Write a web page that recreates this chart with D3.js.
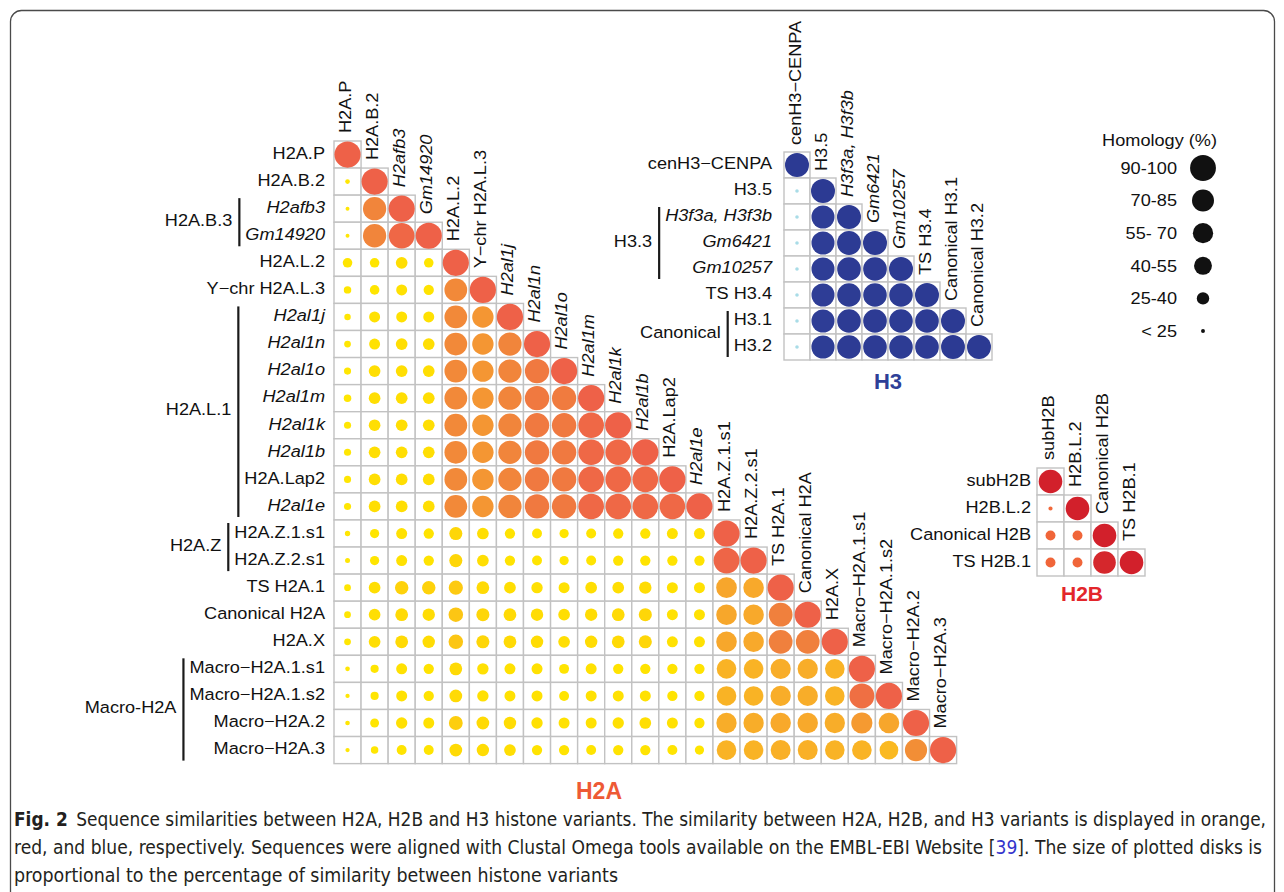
<!DOCTYPE html>
<html>
<head>
<meta charset="utf-8">
<script src="https://cdn.jsdelivr.net/npm/d3@7"></script>
<style>
  html, body { margin: 0; padding: 0; background: #fff; }
  svg { display: block; font-family: "Liberation Sans", Arial, Helvetica, sans-serif; }
</style>
</head>
<body>
<svg id="fig" width="1284" height="892"></svg>
<script>
// ---------------- H2A variants (lower triangle, % similarity) ----------------
const h2aLabels = ["H2A.P", "H2A.B.2", "H2afb3", "Gm14920", "H2A.L.2", "Y\u2212chr H2A.L.3",
  "H2al1j", "H2al1n", "H2al1o", "H2al1m", "H2al1k", "H2al1b", "H2A.Lap2", "H2al1e",
  "H2A.Z.1.s1", "H2A.Z.2.s1", "TS H2A.1", "Canonical H2A", "H2A.X",
  "Macro\u2212H2A.1.s1", "Macro\u2212H2A.1.s2", "Macro\u2212H2A.2", "Macro\u2212H2A.3"];
const h2aItalic = ["H2afb3", "Gm14920", "H2al1j", "H2al1n", "H2al1o", "H2al1m", "H2al1k", "H2al1b", "H2al1e"];
const h2aGroups = [
  { name: "H2A.B.3", from: "H2afb3", to: "Gm14920" },
  { name: "H2A.L.1", from: "H2al1j", to: "H2al1e" },
  { name: "H2A.Z", from: "H2A.Z.1.s1", to: "H2A.Z.2.s1" },
  { name: "Macro-H2A", from: "Macro\u2212H2A.1.s1", to: "Macro\u2212H2A.3" }
];
const h2aValues = [
  [100],
  [21, 100],
  [20, 82, 100],
  [20, 82, 96, 100],
  [28, 28, 31, 28, 100],
  [25, 28, 30, 29, 80, 100],
  [23.5, 30, 30, 30, 80, 74, 100],
  [24, 30, 31, 31, 80, 74, 82, 100],
  [24.5, 31, 31, 31, 80, 74, 82, 87, 100],
  [25, 31, 31, 31, 80, 74, 82, 87, 86, 100],
  [24.5, 31, 31, 31, 80, 74, 82, 87, 87, 95, 100],
  [24.5, 31, 31, 31, 80, 74, 82, 87, 87, 95, 95, 100],
  [24.5, 31, 31, 31, 80, 74, 82, 87, 87, 95, 95, 95, 100],
  [24.5, 31, 31, 31, 80, 74, 82, 87, 87, 95, 95, 95, 95, 100],
  [22, 27.5, 30, 29, 34, 31, 29, 28.5, 27.5, 28.5, 29, 29, 30, 30, 100],
  [21.5, 27.5, 30, 29, 34, 31, 29, 28.5, 27.5, 28.5, 29, 29, 29, 29, 97, 100],
  [24, 31, 35, 35, 37, 33, 31, 30.5, 30, 31, 31, 32, 30, 30, 66, 64, 100],
  [24, 31, 33, 32, 38, 34, 33, 32, 31, 32, 33, 34, 30, 30, 65, 64, 84, 100],
  [24, 31, 33, 32, 38, 34, 33, 32, 31, 32, 33, 34, 30, 30, 65, 64, 84, 84, 100],
  [21, 26, 30, 29, 33, 30.5, 30, 30, 28.5, 30, 29, 29, 29, 29, 58, 58, 62, 62, 58, 100],
  [20.5, 26, 30, 29, 33, 30.5, 30, 30, 28.5, 30, 30, 30, 29, 29, 58, 58, 62, 62, 58, 91, 100],
  [21, 27, 30.5, 30, 36, 33, 32, 30.5, 30, 30, 30.5, 31, 30, 29, 62, 62, 64, 64, 62, 72, 66, 100],
  [20.5, 25, 28.5, 28.5, 33, 32, 31, 29, 29, 28.5, 29, 29, 28.5, 27.5, 58, 58, 60, 60, 58, 58, 53, 78, 100]
];

// ---------------- H3 variants ----------------
const h3Labels = ["cenH3\u2212CENPA", "H3.5", "H3f3a, H3f3b", "Gm6421", "Gm10257", "TS H3.4", "H3.1", "H3.2"];
const h3ColLabels = ["cenH3\u2212CENPA", "H3.5", "H3f3a, H3f3b", "Gm6421", "Gm10257", "TS H3.4", "Canonical H3.1", "Canonical H3.2"];
const h3Italic = ["H3f3a, H3f3b", "Gm6421", "Gm10257"];
const h3Groups = [
  { name: "H3.3", from: "H3f3a, H3f3b", to: "Gm10257" },
  { name: "Canonical", from: "H3.1", to: "H3.2" }
];
const h3Values = [
  [100],
  [19, 100],
  [19, 92, 100],
  [19, 92, 98, 100],
  [19, 92, 97, 97, 100],
  [19, 92, 96, 96, 96, 100],
  [19, 92, 97, 97, 96, 97, 100],
  [19, 93, 97, 97, 96, 97, 99, 100]
];

// ---------------- H2B variants ----------------
const h2bLabels = ["subH2B", "H2B.L.2", "Canonical H2B", "TS H2B.1"];
const h2bValues = [
  [100],
  [21, 100],
  [30, 30, 100],
  [30, 30, 92, 100]
];

// ---------------- Legend ----------------
const legendBins = ["90-100", "70-85", "55- 70", "40-55", "25-40", "< 25"];
const legendValues = [97, 77, 62, 48, 32, 20];

// ---------------- Caption ----------------
const captionLines = [
  [["Fig. 2", "bold"], ["\u2002Sequence similarities between H2A, H2B and H3 histone variants. The similarity between H2A, H2B, and H3 variants is displayed in orange,", "normal"]],
  [["red, and blue, respectively. Sequences were aligned with Clustal Omega tools available on the EMBL-EBI Website [", "normal"], ["39", "link"], ["]. The size of plotted disks is", "normal"]],
  [["proportional to the percentage of similarity between histone variants", "normal"]]
];

// disk radius relative to the largest disk of a panel
const rNorm = d3.scaleLinear()
  .domain([0, 20, 32, 47, 62, 75, 85, 95, 100])
  .range([1.5, 2, 6.3, 9, 10.3, 10.9, 12.2, 13, 13.3].map(r => r / 13.3))
  .clamp(true);

const h2aColor = d3.scaleLinear()
  .domain([0, 28, 33, 38, 50, 60, 68, 76, 84, 92, 100])
  .range(["#FFEA10", "#FFE500", "#FFDA05", "#FCC614", "#FBBD1F", "#F9B027", "#F6A22E", "#F39234", "#F0803D", "#EF6C44", "#EE6148"])
  .clamp(true);
const h3Color = d3.scaleLinear()
  .domain([0, 25, 55, 85, 100])
  .range(["#B2E2EA", "#A6DAE6", "#5E88C0", "#2F4098", "#2C3A93"])
  .clamp(true);
const h2bColor = d3.scaleLinear()
  .domain([0, 35, 70, 100])
  .range(["#F37440", "#EF6238", "#DC3A30", "#D2202B"])
  .clamp(true);

// labels are set in a slightly wide sans
const FS = 16.5, SX = 1.1;

const svg = d3.select("#fig");

// outer frame of the figure
svg.append("rect")
  .attr("x", 10.5).attr("y", 10.5).attr("width", 1264).attr("height", 1000).attr("rx", 11)
  .attr("fill", "none").attr("stroke", "#4a4a4a").attr("stroke-width", 1.3);

// horizontal text with a right-aligned anchor at (x, y)
function labelEnd(sel, x, y) {
  return sel.append("text")
    .attr("transform", `translate(${x},${y}) scale(${SX},1)`)
    .attr("dy", "0.35em")
    .attr("text-anchor", "end")
    .attr("font-size", FS)
    .attr("fill", "#111");
}

function drawPanel(p) {
  const n = p.labels.length;
  const g = svg.append("g");
  const band = d3.scaleBand().domain(d3.range(n)).range([0, n * p.cell]);
  const bw = band.bandwidth();
  const xs = i => p.x0 + band(i);
  const ys = i => p.y0 + band(i);

  const cells = [];
  p.values.forEach((row, i) => row.forEach((v, j) => cells.push({ i, j, v })));

  g.selectAll("rect.cell").data(cells).join("rect")
    .attr("class", "cell")
    .attr("x", d => xs(d.j)).attr("y", d => ys(d.i))
    .attr("width", bw).attr("height", bw)
    .attr("fill", "#fff").attr("stroke", "#C2C2C2").attr("stroke-width", 1.4);

  g.selectAll("circle.disk").data(cells).join("circle")
    .attr("class", "disk")
    .attr("cx", d => xs(d.j) + bw / 2).attr("cy", d => ys(d.i) + bw / 2)
    .attr("r", d => p.rMax * rNorm(d.v))
    .attr("fill", d => p.color(d.v));

  const rowX = p.x0 - p.rowGap;
  const rowNodes = p.labels.map((d, i) => {
    const t = labelEnd(g, rowX, ys(i) + bw / 2 - 1.5)
      .style("font-style", p.italic.includes(d) ? "italic" : "normal")
      .text(d);
    return t.node();
  });

  const colLabels = p.colLabels || p.labels;
  g.selectAll("text.col").data(colLabels).join("text")
    .attr("class", "col")
    .attr("transform", (d, i) => `translate(${xs(i) + bw / 2 + p.colShift},${ys(i) - p.colGap}) rotate(-90) scale(${SX},1)`)
    .attr("font-size", FS)
    .attr("fill", "#111")
    .style("font-style", d => p.italic.includes(d) ? "italic" : "normal")
    .text(d => d);

  (p.groups || []).forEach(gr => {
    const a = p.labels.indexOf(gr.from), b = p.labels.indexOf(gr.to);
    let minLeft = Infinity;
    for (let i = a; i <= b; i++) {
      minLeft = Math.min(minLeft, rowX + SX * rowNodes[i].getBBox().x);
    }
    const lx = minLeft - 6;
    g.append("line")
      .attr("x1", lx).attr("x2", lx)
      .attr("y1", ys(a) + 3).attr("y2", ys(b) + bw - 3)
      .attr("stroke", "#1a1a1a").attr("stroke-width", 2.2);
    labelEnd(g, lx - 7, (ys(a) + ys(b) + bw) / 2 - 2).text(gr.name);
  });

  svg.append("text")
    .attr("x", p.title.x).attr("y", p.title.y)
    .attr("text-anchor", "middle")
    .attr("font-size", p.title.size).attr("font-weight", "bold")
    .attr("fill", p.title.color)
    .text(p.title.text);
}

drawPanel({
  labels: h2aLabels, values: h2aValues, italic: h2aItalic, groups: h2aGroups,
  x0: 334, y0: 141, cell: 27.07, rMax: 13.1, color: h2aColor,
  rowGap: 9, colGap: 8, colShift: 3,
  title: { text: "H2A", x: 599, y: 799, size: 23, color: "#EE5A35" }
});

drawPanel({
  labels: h3Labels, colLabels: h3ColLabels, values: h3Values, italic: h3Italic, groups: h3Groups,
  x0: 784, y0: 152, cell: 26, rMax: 12, color: h3Color,
  rowGap: 12, colGap: 7, colShift: 4,
  title: { text: "H3", x: 888, y: 389, size: 22, color: "#2E3F97" }
});

drawPanel({
  labels: h2bLabels, values: h2bValues, italic: [], groups: [],
  x0: 1037, y0: 468, cell: 27, rMax: 11.8, color: h2bColor,
  rowGap: 6, colGap: 8, colShift: 3.5,
  title: { text: "H2B", x: 1082, y: 601, size: 21, color: "#E3262B" }
});

// ---------------- legend of disk sizes ----------------
const legend = svg.append("g");
legend.append("text")
  .attr("transform", `translate(1217,146) scale(${SX},1)`)
  .attr("text-anchor", "end")
  .attr("font-size", FS).attr("fill", "#111")
  .text("Homology (%)");
const ly = d3.scalePoint().domain(legendBins).range([168, 331]);
legend.selectAll("circle").data(legendBins).join("circle")
  .attr("cx", 1203).attr("cy", d => ly(d))
  .attr("r", (d, i) => 13.1 * rNorm(legendValues[i]))
  .attr("fill", "#111");
legendBins.forEach(d => labelEnd(legend, 1177, ly(d)).text(d));

// ---------------- caption ----------------
const capWidths = [1252, 1248, 604];
const capBase = [826, 854, 882];
captionLines.forEach((parts, k) => {
  const t = svg.append("text")
    .attr("x", 14).attr("y", capBase[k])
    .attr("font-size", 19)
    .attr("fill", "#231F20")
    .style("font-family", "'Liberation Sans Narrow', 'DejaVu Sans Condensed', 'Roboto Condensed', 'Liberation Sans', sans-serif")
    .attr("textLength", capWidths[k])
    .attr("lengthAdjust", "spacingAndGlyphs");
  parts.forEach(([s, kind]) => {
    t.append("tspan")
      .attr("font-weight", kind === "bold" ? "bold" : "normal")
      .attr("fill", kind === "link" ? "#3535CC" : "#231F20")
      .text(s);
  });
});
</script>
</body>
</html>
